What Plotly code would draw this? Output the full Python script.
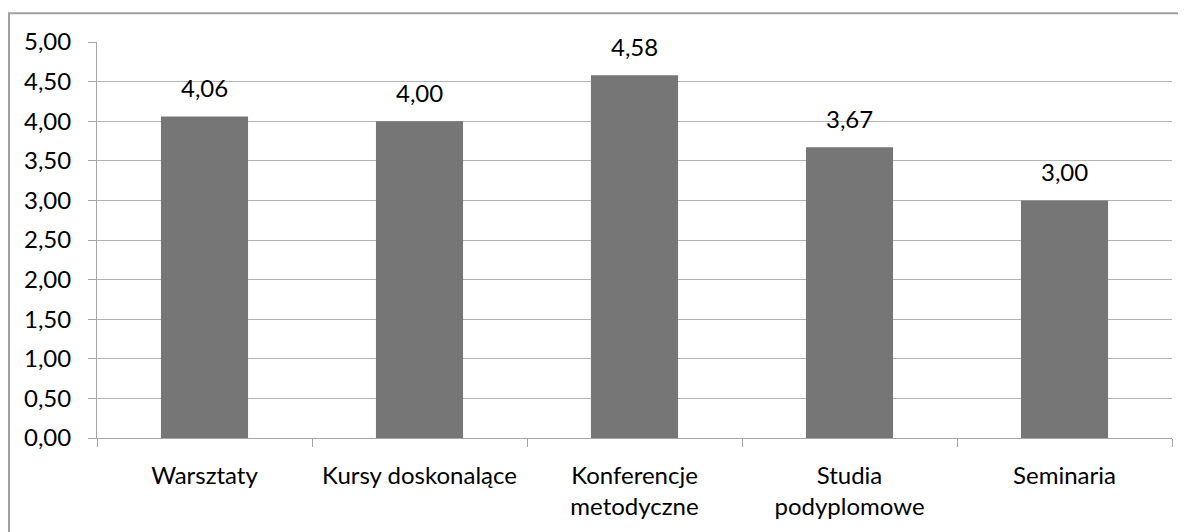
import plotly.graph_objects as go

categories = ['Warsztaty', 'Kursy doskonalące', 'Konferencje<br>metodyczne',
              'Studia<br>podyplomowe', 'Seminaria']
values = [4.06, 4.00, 4.58, 3.67, 3.00]
y_ticks = [0, 0.5, 1, 1.5, 2, 2.5, 3, 3.5, 4, 4.5, 5]

# page body has an 8px margin, so the figure is placed at (8, 8)
W, H = 1178, 524
L, R, T, B = 89, 14, 34, 90
FONT = dict(family='Lato, Open Sans, sans-serif', size=24, color='#000000')

fig = go.Figure(go.Bar(
    x=categories, y=values,
    marker=dict(color='#767676', line=dict(width=0)),
    width=0.405,
    hoverinfo='skip',
))

for c, v in zip(categories, values):
    fig.add_annotation(x=c, y=v, text=f'{v:.2f}'.replace('.', ','),
                       showarrow=False, yanchor='bottom', yshift=12,
                       font=FONT)

# outer chart frame (cut off at right and bottom)
pw, ph = W - L - R, H - T - B
fig.add_shape(type='rect', xref='paper', yref='paper',
              x0=(1 - L) / pw, x1=(W + 20 - L) / pw,
              y0=-(H + 20 - T - ph) / ph, y1=(H - B - 5) / ph,
              line=dict(color='#a0a0a0', width=2), fillcolor='rgba(0,0,0,0)',
              layer='below')

fig.update_layout(
    width=W, height=H,
    margin=dict(l=L, r=R, t=T, b=B),
    paper_bgcolor='white', plot_bgcolor='white',
    separators=',.',
    font=FONT,
    showlegend=False,
    xaxis=dict(showgrid=False, showline=True, linecolor='#a6a6a6', linewidth=1,
               ticks='outside', tickson='boundaries', ticklen=8, tickcolor='#a6a6a6',
               tickfont=FONT, ticklabelstandoff=16),
    yaxis=dict(range=[0, 5], tickvals=y_ticks, tickformat='.2f',
               showgrid=True, gridcolor='#b4b4b4', gridwidth=1,
               showline=True, linecolor='#a6a6a6', linewidth=1,
               ticks='outside', ticklen=8, tickcolor='#a6a6a6',
               tickfont=FONT, ticklabelstandoff=12, zeroline=False),
)

fig.write_html('out.html')
